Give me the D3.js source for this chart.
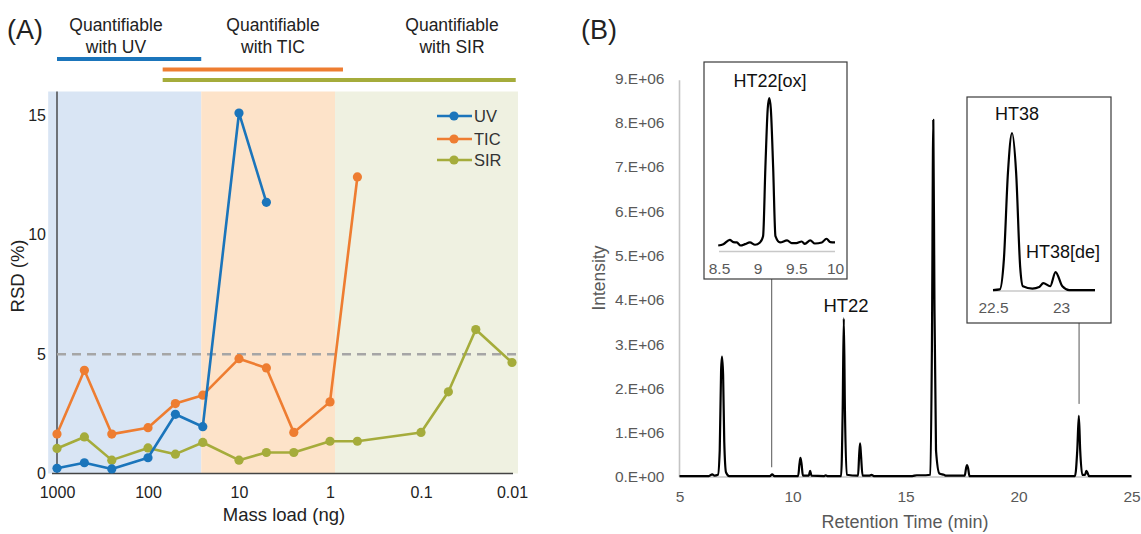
<!DOCTYPE html>
<html>
<head>
<meta charset="utf-8">
<script src="https://cdn.jsdelivr.net/npm/d3@7"></script>
<style>
  html, body { margin: 0; padding: 0; background: #fff; }
  svg { display: block; font-family: "Liberation Sans", Arial, sans-serif; }
</style>
</head>
<body>
<svg id="fig" width="1141" height="534"></svg>
<script>
// ---------- Panel A: RSD vs mass load ----------
const massLoads = [1000, 500, 250, 100, 50, 25, 10, 5, 2.5, 1, 0.5, 0.1, 0.05, 0.025, 0.01];
const uvRSD  = [0.22, 0.45, 0.19, 0.66, 2.48, 1.96, 15.1, 11.36];
const ticRSD = [1.65, 4.32, 1.65, 1.92, 2.93, 3.28, 4.81, 4.42, 1.72, 3.0, 12.42];
const sirRSD = [1.05, 1.53, 0.56, 1.07, 0.81, 1.30, 0.56, 0.88, 0.88, 1.35, 1.35, 1.72, 3.42, 6.03, 4.65];
const seriesNames = ["UV", "TIC", "SIR"];
const massTicks = [1000, 100, 10, 1, 0.1, 0.01];
const massTickLabels = ["1000", "100", "10", "1", "0.1", "0.01"];
const rsdTicks = [0, 5, 10, 15];
const rsdLimit = 5;
// shaded regions (ng): UV, TIC, SIR working ranges
const bandEdges = [1250, 26, 0.88, 0.0086];
// quantifiable ranges shown above the plot (ng)
const rangeStart = [1000, 69, 69];
const rangeEnd   = [26, 0.72, 0.0091];
const rangeTitles = [["Quantifiable", "with UV"], ["Quantifiable", "with TIC"], ["Quantifiable", "with SIR"]];

// ---------- Panel B: chromatogram ----------
const traceTime = [5.0, 6.3, 6.45, 6.55, 6.7, 6.78, 6.84, 6.88, 6.93, 6.98, 7.06, 7.2,
  9.0, 9.1, 9.2, 10.25, 10.31, 10.35, 10.4, 10.46, 10.72, 10.78, 10.84,
  11.4, 11.47, 11.54, 12.15, 12.22, 12.27, 12.32, 12.4, 12.9, 12.95, 12.99, 13.03, 13.1,
  13.4, 13.5, 13.6, 15.3, 15.5, 15.9, 16.1, 16.17, 16.23, 16.28, 16.35, 16.5, 16.7, 16.8,
  17.62, 17.68, 17.72, 17.77, 17.83, 22.5, 22.6, 22.67, 22.73, 22.82, 22.95, 23.0, 23.05, 23.12, 25.0];
const traceIntensity = [0.02, 0.02, 0.06, 0.03, 0.05, 0.6, 2.4, 2.72, 2.3, 0.8, 0.1, 0.02,
  0.02, 0.06, 0.02, 0.02, 0.3, 0.43, 0.3, 0.03, 0.03, 0.14, 0.03,
  0.02, 0.04, 0.02, 0.02, 1.5, 3.58, 1.5, 0.05, 0.03, 0.5, 0.76, 0.5, 0.03,
  0.03, 0.05, 0.02, 0.02, 0.04, 0.04, 0.05, 3.0, 8.06, 4.0, 0.6, 0.08, 0.05, 0.03,
  0.03, 0.2, 0.27, 0.2, 0.02, 0.02, 0.6, 1.38, 0.6, 0.05, 0.05, 0.14, 0.1, 0.02, 0.02]; // ×1e6
const intensityTicks = [0, 1, 2, 3, 4, 5, 6, 7, 8, 9]; // ×1e6
const timeTicks = [5, 10, 15, 20, 25];

// inset: HT22[ox]
const oxTime = [8.49, 8.556, 8.64, 8.685, 8.73, 8.78, 8.836, 8.9, 8.966, 9.03, 9.07, 9.1, 9.13, 9.15,
  9.17, 9.2, 9.23, 9.29, 9.38, 9.44, 9.5, 9.57, 9.61, 9.68, 9.74, 9.83, 9.89, 9.94, 10.0];
const oxSignal = [0.039, 0.048, 0.076, 0.061, 0.059, 0.039, 0.048, 0.059, 0.044, 0.059, 0.1, 0.55, 0.93, 1.0,
  0.93, 0.55, 0.1, 0.059, 0.072, 0.055, 0.055, 0.065, 0.05, 0.072, 0.052, 0.059, 0.083, 0.061, 0.059];
const oxTicks = [8.5, 9, 9.5, 10];

// inset: HT38 / HT38[de]
const ht38Time = [22.5, 22.55, 22.58, 22.61, 22.64, 22.67, 22.7, 22.72, 22.79, 22.84, 22.87, 22.92, 22.96, 23.01, 23.06, 23.25];
const ht38Signal = [0.006, 0.01, 0.2, 0.75, 1.0, 0.75, 0.15, 0.03, 0.015, 0.025, 0.05, 0.03, 0.12, 0.03, 0.006, 0.006];
const ht38Ticks = [22.5, 23];

const svg = d3.select("#fig");
const FONT = "Liberation Sans, Arial, sans-serif";
const colors = ["#1b75bb", "#ee7d31", "#a5ac3b"];
const bandColors = ["#d9e5f4", "#fde3c9", "#eff1e1"];

// ===== Panel A =====
const xA = d3.scaleLog().domain([1000, 0.01]).range([57, 512]);
const yA = d3.scaleLinear().domain([0, 16]).range([473.5, 91.5]);

svg.append("text").attr("x", 7).attr("y", 39).attr("font-size", 27).attr("fill", "#222").text("(A)");

// range titles and bars
const titleX = [116, 273, 452];
rangeTitles.forEach((t, i) => {
  const tx = svg.append("text").attr("text-anchor", "middle").attr("font-size", 17.5).attr("fill", "#222");
  tx.append("tspan").attr("x", titleX[i]).attr("y", 31).text(t[0]);
  tx.append("tspan").attr("x", titleX[i]).attr("y", 53).text(t[1]);
});
const barY = [59, 69.5, 80];
rangeStart.forEach((s, i) => {
  svg.append("line")
    .attr("x1", xA(s)).attr("x2", xA(rangeEnd[i]))
    .attr("y1", barY[i]).attr("y2", barY[i])
    .attr("stroke", colors[i]).attr("stroke-width", 4);
});

// shaded bands
for (let i = 0; i < 3; i++) {
  svg.append("rect")
    .attr("x", xA(bandEdges[i])).attr("y", yA(16))
    .attr("width", xA(bandEdges[i + 1]) - xA(bandEdges[i]))
    .attr("height", yA(0) - yA(16))
    .attr("fill", bandColors[i]);
}

// axes
svg.append("line").attr("x1", xA(1000)).attr("x2", xA(1000)).attr("y1", yA(16)).attr("y2", yA(0))
  .attr("stroke", "#333").attr("stroke-width", 1.3);
svg.append("line").attr("x1", xA(1000) - 5).attr("x2", xA(0.01) + 1).attr("y1", yA(0)).attr("y2", yA(0))
  .attr("stroke", "#444").attr("stroke-width", 1.6);

const xAxisA = d3.axisBottom(xA).tickValues(massTicks).tickSize(0).tickPadding(13)
  .tickFormat((d, i) => massTickLabels[i]);
const gx = svg.append("g").attr("transform", `translate(0,${yA(0)})`).call(xAxisA);
gx.select(".domain").remove();
gx.selectAll("text").attr("font-size", 16).attr("fill", "#222").attr("font-family", FONT);

const yAxisA = d3.axisLeft(yA).tickValues(rsdTicks).tickSize(0).tickPadding(11);
const gy = svg.append("g").attr("transform", `translate(${xA(1000)},0)`).call(yAxisA);
gy.select(".domain").remove();
gy.selectAll("text").attr("font-size", 16).attr("fill", "#222").attr("font-family", FONT);

svg.append("text").attr("x", 284).attr("y", 521).attr("text-anchor", "middle")
  .attr("font-size", 18.5).attr("fill", "#222").text("Mass load (ng)");
svg.append("text").attr("transform", "translate(24,276) rotate(-90)").attr("text-anchor", "middle")
  .attr("font-size", 18.5).attr("fill", "#222").text("RSD (%)");

// 5% limit
svg.append("line").attr("x1", xA(1000)).attr("x2", xA(0.0086)).attr("y1", yA(rsdLimit)).attr("y2", yA(rsdLimit))
  .attr("stroke", "#a6a6a6").attr("stroke-width", 2.5).attr("stroke-dasharray", "9,6");

// series
const allSeries = [uvRSD, ticRSD, sirRSD];
const lineA = d3.line().x(d => xA(d[0])).y(d => yA(d[1]));
[2, 1, 0].forEach(i => {
  const pts = allSeries[i].map((v, j) => [massLoads[j], v]);
  const g = svg.append("g");
  g.append("path").attr("d", lineA(pts)).attr("fill", "none")
    .attr("stroke", colors[i]).attr("stroke-width", 2.6).attr("stroke-linejoin", "round");
  g.selectAll("circle").data(pts).join("circle")
    .attr("cx", d => xA(d[0])).attr("cy", d => yA(d[1])).attr("r", 4.6).attr("fill", colors[i]);
});

// legend
const legY = [116, 139, 160];
seriesNames.forEach((n, i) => {
  svg.append("line").attr("x1", 437).attr("x2", 472).attr("y1", legY[i]).attr("y2", legY[i])
    .attr("stroke", colors[i]).attr("stroke-width", 2.6);
  svg.append("circle").attr("cx", 454).attr("cy", legY[i]).attr("r", 4.6).attr("fill", colors[i]);
  svg.append("text").attr("x", 474).attr("y", legY[i] + 6).attr("font-size", 16.5).attr("fill", "#333").text(n);
});

// ===== Panel B =====
const xB = d3.scaleLinear().domain([5, 25]).range([679.5, 1131.5]);
const yB = d3.scaleLinear().domain([0, 9]).range([477, 78.3]);

svg.append("text").attr("x", 581).attr("y", 39).attr("font-size", 27).attr("fill", "#222").text("(B)");

svg.append("line").attr("x1", xB(5)).attr("x2", xB(5)).attr("y1", yB(9) + 2).attr("y2", yB(0))
  .attr("stroke", "#c4c4c4").attr("stroke-width", 1.6);
svg.append("line").attr("x1", xB(5)).attr("x2", xB(25)).attr("y1", yB(0)).attr("y2", yB(0))
  .attr("stroke", "#c4c4c4").attr("stroke-width", 1.6);

const yAxisB = d3.axisLeft(yB).tickValues(intensityTicks).tickSize(0).tickPadding(15)
  .tickFormat(d => `${d}.E+0${d === 0 ? 0 : 6}`);
const gyB = svg.append("g").attr("transform", `translate(${xB(5)},0)`).call(yAxisB);
gyB.select(".domain").remove();
gyB.selectAll("text").attr("font-size", 15.5).attr("fill", "#595959").attr("font-family", FONT);

const xAxisB = d3.axisBottom(xB).tickValues(timeTicks).tickSize(0).tickPadding(14);
const gxB = svg.append("g").attr("transform", `translate(0,${yB(0)})`).call(xAxisB);
gxB.select(".domain").remove();
gxB.selectAll("text").attr("font-size", 15.5).attr("fill", "#595959").attr("font-family", FONT);

svg.append("text").attr("x", 905).attr("y", 528).attr("text-anchor", "middle")
  .attr("font-size", 18).attr("fill", "#595959").text("Retention Time (min)");
svg.append("text").attr("transform", "translate(605,278) rotate(-90)").attr("text-anchor", "middle")
  .attr("font-size", 17.5).attr("fill", "#595959").text("Intensity");

// main trace
const traceLine = d3.line().x(d => xB(d[0])).y(d => yB(d[1])).curve(d3.curveMonotoneX);
svg.append("path").attr("d", traceLine(traceTime.map((t, i) => [t, traceIntensity[i]])))
  .attr("fill", "none").attr("stroke", "#000").attr("stroke-width", 2.2).attr("stroke-linejoin", "round");

svg.append("text").attr("x", 846).attr("y", 312).attr("text-anchor", "middle")
  .attr("font-size", 18.5).attr("fill", "#111").text("HT22");

// leader lines from insets
svg.append("line").attr("x1", xB(9.08)).attr("x2", xB(9.08)).attr("y1", 279).attr("y2", yB(0.22))
  .attr("stroke", "#555").attr("stroke-width", 1);
svg.append("line").attr("x1", xB(22.68)).attr("x2", xB(22.68)).attr("y1", 323).attr("y2", yB(1.65))
  .attr("stroke", "#555").attr("stroke-width", 1);

// inset drawing helper
function inset(box, tDomain, tRange, yRange, times, sig, ticks) {
  svg.append("rect").attr("x", box[0]).attr("y", box[1]).attr("width", box[2]).attr("height", box[3])
    .attr("fill", "#fff").attr("stroke", "#3a3a3a").attr("stroke-width", 1.2);
  const xs = d3.scaleLinear().domain(tDomain).range(tRange);
  const ys = d3.scaleLinear().domain([0, 1]).range(yRange);
  svg.append("line").attr("x1", xs(tDomain[0])).attr("x2", xs(tDomain[1]))
    .attr("y1", ys(0)).attr("y2", ys(0)).attr("stroke", "#c8c8c8").attr("stroke-width", 1.4);
  const ln = d3.line().x(d => xs(d[0])).y(d => ys(d[1])).curve(d3.curveMonotoneX);
  svg.append("path").attr("d", ln(times.map((t, i) => [t, sig[i]])))
    .attr("fill", "none").attr("stroke", "#000").attr("stroke-width", 2.2).attr("stroke-linejoin", "round");
  const ax = d3.axisBottom(xs).tickValues(ticks).tickSize(0).tickPadding(11).tickFormat(d3.format("~g"));
  const g = svg.append("g").attr("transform", `translate(0,${ys(0)})`).call(ax);
  g.select(".domain").remove();
  g.selectAll("text").attr("font-size", 15.5).attr("fill", "#595959").attr("font-family", FONT);
}

inset([704, 62, 143, 217], [8.5, 10], [719, 835], [251.5, 98], oxTime, oxSignal, oxTicks);
svg.append("text").attr("x", 770).attr("y", 87).attr("text-anchor", "middle")
  .attr("font-size", 18).attr("fill", "#111").text("HT22[ox]");

inset([967, 97, 144, 226], [22.5, 23.25], [993, 1095], [291, 133], ht38Time, ht38Signal, ht38Ticks);
svg.append("text").attr("x", 1017).attr("y", 120).attr("text-anchor", "middle")
  .attr("font-size", 18).attr("fill", "#111").text("HT38");
svg.append("text").attr("x", 1063).attr("y", 258).attr("text-anchor", "middle")
  .attr("font-size", 18).attr("fill", "#111").text("HT38[de]");
</script>
</body>
</html>
